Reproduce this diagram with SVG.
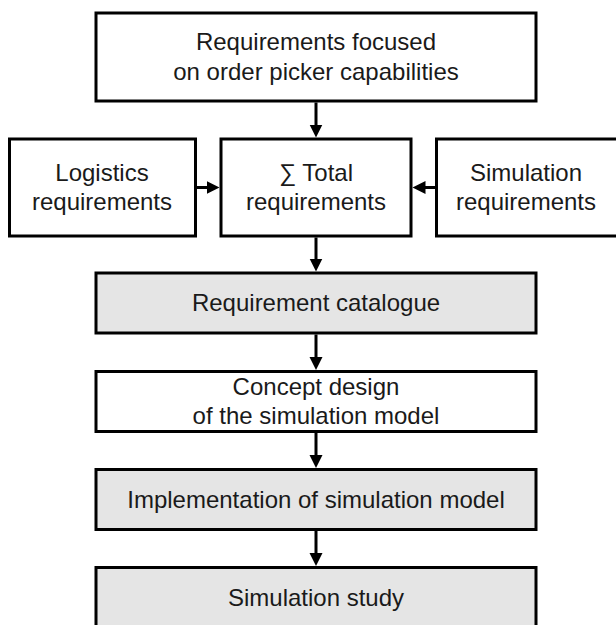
<svg xmlns="http://www.w3.org/2000/svg" width="616" height="625" viewBox="0 0 616 625">
  <defs>
    <marker id="arrow" markerUnits="userSpaceOnUse" markerWidth="14" markerHeight="14" refX="3" refY="6.5" orient="auto">
      <path d="M0,0 L13,6.5 L0,13 Z" fill="#000"/>
    </marker>
    <style>
      .box { stroke: #000; stroke-width: 3; fill: #ffffff; }
      .grey { fill: #e5e5e5; }
      .lbl { font-family: "Liberation Sans", Arial, sans-serif; font-size: 24px; fill: #1a1a1a; text-anchor: middle; }
      .conn { stroke: #000; stroke-width: 3; fill: none; marker-end: url(#arrow); }
    </style>
  </defs>
  <rect width="616" height="625" fill="#ffffff"/>

  <g id="connectors">
    <path class="conn" d="M316,102.5 L316,127.5"/>
    <path class="conn" d="M197,187.5 L209.5,187.5"/>
    <path class="conn" d="M435,187.5 L422.5,187.5"/>
    <path class="conn" d="M316,237.5 L316,261.5"/>
    <path class="conn" d="M316,334.5 L316,360"/>
    <path class="conn" d="M316,432.5 L316,458"/>
    <path class="conn" d="M316,531 L316,556"/>
  </g>

  <g id="node-focused">
    <rect class="box" x="96" y="13" width="440" height="88"/>
    <text class="lbl" x="316" y="50">Requirements focused</text>
    <text class="lbl" x="316" y="80">on order picker capabilities</text>
  </g>

  <g id="node-logistics">
    <rect class="box" x="9.5" y="139" width="186" height="97"/>
    <text class="lbl" x="102" y="181">Logistics</text>
    <text class="lbl" x="102" y="210">requirements</text>
  </g>

  <g id="node-total">
    <rect class="box" x="221" y="139" width="190" height="97"/>
    <text class="lbl" x="316" y="181">∑ Total</text>
    <text class="lbl" x="316" y="210">requirements</text>
  </g>

  <g id="node-simulation-req">
    <rect class="box" x="436.5" y="139" width="186" height="97"/>
    <text class="lbl" x="526" y="181">Simulation</text>
    <text class="lbl" x="526" y="210">requirements</text>
  </g>

  <g id="node-catalogue">
    <rect class="box grey" x="96" y="273" width="440" height="60"/>
    <text class="lbl" x="316" y="311">Requirement catalogue</text>
  </g>

  <g id="node-concept">
    <rect class="box" x="96" y="371.5" width="440" height="60"/>
    <text class="lbl" x="316" y="395">Concept design</text>
    <text class="lbl" x="316" y="424">of the simulation model</text>
  </g>

  <g id="node-implementation">
    <rect class="box grey" x="96" y="469.5" width="440" height="60"/>
    <text class="lbl" x="316" y="508">Implementation of simulation model</text>
  </g>

  <g id="node-study">
    <rect class="box grey" x="96" y="567.5" width="440" height="62"/>
    <text class="lbl" x="316" y="606">Simulation study</text>
  </g>
</svg>
